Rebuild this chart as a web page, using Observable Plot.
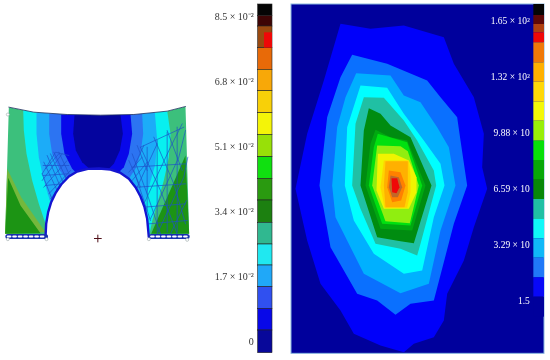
<!DOCTYPE html>
<html><head><meta charset="utf-8">
<style>html,body{margin:0;padding:0;background:#fff}svg{display:block}</style>
<script src="https://cdn.jsdelivr.net/npm/d3@7"></script>
<script src="https://cdn.jsdelivr.net/npm/@observablehq/plot@0.6"></script>
</head><body><div id="chart"></div>
<script>
// Values, in thirds of a pixel inside each panel.
const shellFill = "#3cc07c";
const topEdge = [[25,50],[100,65],[200,72],[300,74],[400,72],[500,62],[555,48]];
const shell = [...topEdge,[566,430],[450,432],[140,432],[14,430]];
const topCover = [[0,0],[600,0],[600,47],...topEdge.slice().reverse(),[0,48]];
const strainFills = ["#74b83c","#1c9414","#1c9414","#08f0f0","#1cacf8","#2c74f2","#0808ea","#04049e"];
const strainBands = [
  [[20,235],[62,320],[135,425],[14,430]],
  [[555,195],[566,430],[452,430]],
  [[23,262],[60,345],[120,428],[14,430]],
  [[68,57],[70,120],[78,190],[95,270],[115,340],[135,400],[140,440],[445,440],[455,392],[470,340],[490,270],[505,200],[510,130],[500,60]],
  [[108,67],[108,130],[115,200],[130,270],[148,330],[300,420],[430,340],[445,290],[465,220],[470,150],[463,65]],
  [[146,70],[146,130],[155,190],[178,240],[205,275],[300,340],[385,265],[405,235],[420,190],[428,130],[425,70]],
  [[182,72],[182,130],[192,190],[215,235],[235,255],[300,300],[370,230],[385,190],[395,130],[390,72]],
  [[222,74],[218,130],[226,180],[245,215],[270,238],[320,240],[340,220],[358,180],[367,130],[360,73]]
];
const archLine = [[135,440],[137,400],[143,365],[152,335],[165,308],[182,282],[205,258],[230,243],[262,235],[295,234],[330,237],[358,246],[385,265],[405,290],[420,318],[432,350],[440,385],[445,440]];
const archCover = [[135,452],...archLine.slice(1,-1),[445,452]];
const meshRight = [
  [[400,230],[430,165]],[[410,290],[470,160]],[[430,340],[510,170],[545,100]],
  [[450,385],[535,200],[555,120]],[[470,430],[550,260],[562,200]],[[510,430],[558,330]],
  [[420,170],[480,300],[530,430]],[[460,140],[520,280],[555,400]],[[500,120],[545,240]],
  [[395,190],[440,310],[480,430]],[[400,240],[450,390]],
  [[395,230],[555,220]],[[410,290],[555,280]],[[430,350],[555,340]],[[445,400],[560,390]],[[420,170],[550,110]],
  [[440,170],[440,360]],[[470,150],[470,425]],[[500,125],[500,425]],[[530,110],[530,425]],
  [[385,245],[425,200]],[[395,270],[440,215]],[[385,210],[420,290]],[[410,165],[440,240]]
];
const meshLeft = [
  [[125,250],[165,185],[205,195]],[[125,270],[185,190]],[[130,290],[200,210]],[[145,310],[210,240]],
  [[135,235],[175,190]],[[150,325],[205,255]],
  [[150,190],[190,280]],[[130,215],[170,300]],[[175,185],[210,260]],[[125,250],[160,340]],[[140,195],[180,290]],[[160,185],[200,270]],
  [[128,225],[205,225]],[[128,255],[200,250]],[[135,285],[185,280]]
];
const padRows = [[[22,438],[135,438]],[[452,438],[560,438]]];
const cross = [[292,444]];
const pins = [[22,446],[138,446],[445,446],[560,448],[22,72]];

const leftEdges = [12,47,78,143,208,272,338,403,470,535,600,667,732,795,860,925,990,1058];
const leftColors = ["#050505","#3e0505","#9a4a10","#e86a08","#f8a808","#f8d008","#f4f408","#98e008","#10e010","#2a9a10","#1c8010","#30b890","#20e8f0","#20a8f8","#3050f0","#0808e8","#08089a"];
const leftRedCell = [[97,143]];
const leftLabels = ["8.5 × 10⁻²","6.8 × 10⁻²","5.1 × 10⁻²","3.4 × 10⁻²","1.7 × 10⁻²","0"];
const leftLabelY = [48,243,440,634,829,1024];

const panelBox = [[3,12,762,1060]];
const panelBg = "#00009c";
const contourFills = ["#0000fa","#0a70ff","#00b0ff","#00ffff","#20c0a4","#008c10","#00a810","#00e010","#90ee10","#f0f400","#ffd400","#ffb000","#ff8000","#c06828","#f00808"];
const contours = [
  [[150,70],[240,85],[340,75],[460,110],[490,190],[550,290],[580,400],[575,500],[590,565],[550,680],[520,780],[470,880],[460,960],[430,1010],[370,1030],[340,1055],[270,1035],[190,1000],[150,930],[90,850],[50,720],[15,565],[50,400],[100,240]],
  [[185,163],[290,190],[410,240],[450,290],[500,350],[510,420],[530,555],[490,670],[430,900],[360,910],[315,943],[260,900],[200,880],[120,740],[87,555],[110,350],[150,230]],
  [[197,218],[300,225],[340,285],[390,305],[440,380],[475,440],[495,555],[450,690],[415,850],[330,878],[220,820],[135,650],[125,555],[140,380],[165,290]],
  [[210,255],[290,262],[340,340],[400,420],[450,490],[462,555],[430,650],[395,810],[340,820],[250,760],[190,660],[163,555],[170,380]],
  [[220,290],[280,292],[340,360],[380,420],[430,510],[437,555],[390,730],[380,765],[330,745],[255,730],[210,625],[185,555],[195,370]],
  [[235,323],[270,340],[300,375],[360,410],[423,555],[370,728],[330,722],[260,710],[210,555],[220,390]],
  [[255,388],[300,410],[350,420],[405,555],[365,690],[270,685],[225,555],[240,430]],
  [[262,400],[350,425],[395,555],[360,675],[275,670],[235,555],[250,440]],
  [[260,435],[330,437],[352,452],[385,555],[358,668],[285,662],[245,555]],
  [[262,460],[310,460],[355,480],[378,530],[378,575],[355,625],[280,625],[258,570]],
  [[280,480],[355,480],[360,525],[360,575],[350,622],[282,622],[270,560]],
  [[285,482],[352,482],[352,575],[342,620],[285,620],[280,555]],
  [[295,510],[330,515],[345,555],[332,600],[305,605],[290,560]],
  [[300,525],[325,530],[335,560],[322,590],[305,590],[295,560]],
  [[303,533],[320,533],[327,560],[318,578],[305,575]]
];
const rightEdges = [12,45,72,97,127,187,245,305,362,422,480,537,597,657,715,773,832,890,950];
const rightColors = ["#050505","#5e0808","#b04010","#f00808","#f07808","#ffb000","#ffd808","#f4f808","#98ee08","#08e008","#08a808","#088808","#20c0a4","#10f8f8","#10b8f8","#2078f8","#0808f8","#00009c"];
const rightLabels = ["1.65 × 10²","1.32 × 10²","9.88 × 10","6.59 × 10","3.29 × 10","1.5"];
const rightLabelY = [60,228,397,565,733,902];

// Panel offsets in image pixels
const P = {left:{dx:0,dy:90}, bar:{dx:190,dy:0}, right:{dx:290,dy:0}};

const poly = (pts, fill, off) => Plot.line(pts, {x:d=>d[0], y:d=>d[1], fill, stroke:"none", curve:"linear-closed", ...off});
const cells = (edges, colors, x1, x2, off, stroke) => Plot.rect(colors.map((c,i)=>({c, y1:edges[i], y2:edges[i+1]})),
  {x1:()=>x1, x2:()=>x2, y1:"y1", y2:"y2", fill:d=>d.c, stroke, strokeWidth:0.6, ...off});
const strokeLine = (l,stroke,w,extra={}) => Plot.line(l,{x:d=>d[0],y:d=>d[1],stroke,strokeWidth:w,...P.left,...extra});

const chart = Plot.plot({
  width:550, height:360, margin:0,
  x:{domain:[0,1650], range:[0,550], axis:null},
  y:{domain:[0,1080], range:[0,360], axis:null},
  style:{background:"#fff", filter:"blur(0.35px)"},
  marks:[
    // left: deformed structure
    poly(shell, shellFill, P.left),
    ...strainBands.map((b,i)=>poly(b, strainFills[i], P.left)),
    poly(topCover, "#ffffff", P.left),
    ...meshRight.map(l=>strokeLine(l,"#1c50c8",0.8,{strokeOpacity:.85})),
    ...meshLeft.map(l=>strokeLine(l,"#1c50c8",0.8,{strokeOpacity:.85})),
    poly(archCover, "#ffffff", P.left),
    strokeLine(archLine,"#1414d0",2.4),
    strokeLine(topEdge,"#203060",0.8),
    ...padRows.map(r=>strokeLine(r,"#1830b0",5)),
    ...padRows.map(r=>strokeLine(r,"#fff",2.2,{strokeDasharray:"2.5 3"})),
    Plot.dot(pins,{x:d=>d[0],y:d=>d[1],r:1.5,stroke:"#9aa8a8",strokeWidth:0.6,fill:"#fff",...P.left}),
    Plot.dot(cross,{x:d=>d[0],y:d=>d[1],symbol:"plus",r:2.6,stroke:"#501018",strokeWidth:1,...P.left}),
    // left colour bar
    cells(leftEdges,leftColors,203,246,P.bar,"#222"),
    Plot.rect(leftRedCell,{x1:()=>222,x2:()=>246,y1:d=>d[0],y2:d=>d[1],fill:"#ee0808",...P.bar}),
    Plot.text(leftLabels,{x:()=>190,y:(d,i)=>leftLabelY[i],text:d=>d,textAnchor:"end",fontFamily:"Liberation Serif",fontSize:10,fill:"#333",...P.bar}),
    // right: contour panel
    Plot.rect(panelBox,{x1:d=>d[0],y1:d=>d[1],x2:d=>d[2],y2:d=>d[3],fill:panelBg,stroke:"#8ab8e0",strokeWidth:1,...P.right}),
    ...contours.map((c,i)=>poly(c,contourFills[i],P.right)),
    cells(rightEdges,rightColors,730,762,P.right,"none"),
    Plot.text(rightLabels,{x:()=>718,y:(d,i)=>rightLabelY[i],text:d=>d,textAnchor:"end",fontFamily:"Liberation Serif",fontSize:9.5,fill:"#fff",...P.right})
  ]
});
document.getElementById("chart").append(chart);
</script></body></html>
